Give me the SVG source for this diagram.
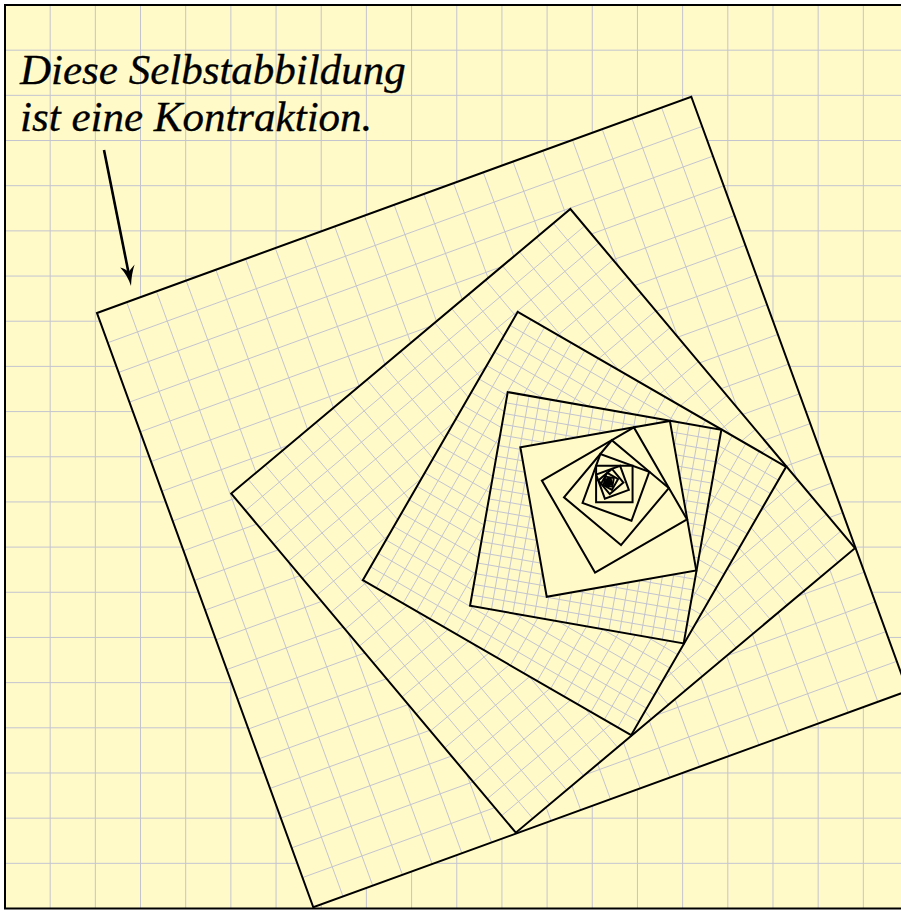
<svg xmlns="http://www.w3.org/2000/svg" xmlns:xlink="http://www.w3.org/1999/xlink" width="901" height="910" viewBox="0 0 901 910">
<style>
.bg{fill:#fffac8;stroke:none}
.grid{fill:none;stroke:#c4c4d0;stroke-width:1;vector-effect:non-scaling-stroke}
.edge{fill:none;stroke:#000;stroke-width:2;vector-effect:non-scaling-stroke}
.lbl{font-family:"Liberation Serif","Times New Roman",serif;font-style:italic;font-size:43px;fill:#000;stroke:#000;stroke-width:0.3}
</style>
<defs>
<g id="sqg">
<rect class="bg" x="5" y="5" width="903.5" height="903.5"/>
<path class="grid" d="M50.18 5V908.5M95.35 5V908.5M140.53 5V908.5M185.7 5V908.5M230.88 5V908.5M276.05 5V908.5M321.23 5V908.5M366.4 5V908.5M411.58 5V908.5M456.75 5V908.5M501.93 5V908.5M547.1 5V908.5M592.28 5V908.5M637.45 5V908.5M682.63 5V908.5M727.8 5V908.5M772.98 5V908.5M818.15 5V908.5M863.33 5V908.5M5 50.18H908.5M5 95.35H908.5M5 140.53H908.5M5 185.7H908.5M5 230.88H908.5M5 276.05H908.5M5 321.23H908.5M5 366.4H908.5M5 411.58H908.5M5 456.75H908.5M5 501.93H908.5M5 547.1H908.5M5 592.28H908.5M5 637.45H908.5M5 682.63H908.5M5 727.8H908.5M5 772.98H908.5M5 818.15H908.5M5 863.33H908.5"/>
<rect class="edge" x="5" y="5" width="903.5" height="903.5"/>
</g>
<g id="sqp">
<rect class="bg" x="5" y="5" width="903.5" height="903.5"/>
<rect class="edge" x="5" y="5" width="903.5" height="903.5"/>
</g>
</defs>
<g id="frame">
<use xlink:href="#sqg"/>
</g>
<g id="contraction">
<g id="level1" transform="matrix(0.65778 -0.23941 0.23941 0.65778 92.51 310.91)">
<use xlink:href="#sqg"/>
<g id="level2" transform="matrix(0.65778 -0.23941 0.23941 0.65778 92.51 310.91)">
<use xlink:href="#sqg"/>
<g id="level3" transform="matrix(0.65778 -0.23941 0.23941 0.65778 92.51 310.91)">
<use xlink:href="#sqg"/>
<g id="level4" transform="matrix(0.65778 -0.23941 0.23941 0.65778 92.51 310.91)">
<use xlink:href="#sqg"/>
<g id="level5" transform="matrix(0.65778 -0.23941 0.23941 0.65778 92.51 310.91)">
<use xlink:href="#sqp"/>
<g transform="matrix(0.65778 -0.23941 0.23941 0.65778 92.51 310.91)">
<use xlink:href="#sqp"/>
<g transform="matrix(0.65778 -0.23941 0.23941 0.65778 92.51 310.91)">
<use xlink:href="#sqp"/>
<g transform="matrix(0.65778 -0.23941 0.23941 0.65778 92.51 310.91)">
<use xlink:href="#sqp"/>
<g transform="matrix(0.65778 -0.23941 0.23941 0.65778 92.51 310.91)">
<use xlink:href="#sqp"/>
<g transform="matrix(0.65778 -0.23941 0.23941 0.65778 92.51 310.91)">
<use xlink:href="#sqp"/>
<g transform="matrix(0.65778 -0.23941 0.23941 0.65778 92.51 310.91)">
<use xlink:href="#sqp"/>
<g transform="matrix(0.65778 -0.23941 0.23941 0.65778 92.51 310.91)">
<use xlink:href="#sqp"/>
<g transform="matrix(0.65778 -0.23941 0.23941 0.65778 92.51 310.91)">
<use xlink:href="#sqp"/>
<g transform="matrix(0.65778 -0.23941 0.23941 0.65778 92.51 310.91)">
<use xlink:href="#sqp"/>
<g transform="matrix(0.65778 -0.23941 0.23941 0.65778 92.51 310.91)">
<use xlink:href="#sqp"/>
<g transform="matrix(0.65778 -0.23941 0.23941 0.65778 92.51 310.91)">
<use xlink:href="#sqp"/>
<g transform="matrix(0.65778 -0.23941 0.23941 0.65778 92.51 310.91)">
<use xlink:href="#sqp"/>
<g transform="matrix(0.65778 -0.23941 0.23941 0.65778 92.51 310.91)">
<use xlink:href="#sqp"/>
</g></g></g></g></g></g></g></g></g></g></g></g></g></g></g></g></g></g>
</g>
<g id="label">
<text class="lbl" x="20" y="84">Diese Selbstabbildung</text>
<text class="lbl" x="20" y="131">ist eine Kontraktion.</text>
</g>
<g id="arrow">
<line x1="104" y1="150" x2="128.6" y2="273" stroke="#000" stroke-width="2.6"/>
<path d="M131 286 Q131.5 274 134.6 264.6 Q130.5 269.5 128.3 272.3 Q125.6 268.6 120.2 267.6 Q127.5 275.5 131 286 Z" fill="#000"/>
</g>
</svg>
